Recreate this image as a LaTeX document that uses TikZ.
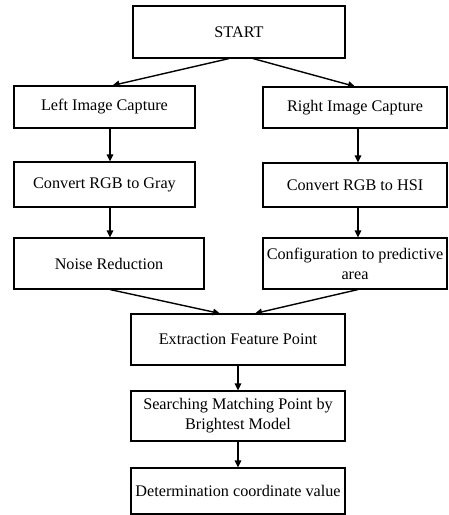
\documentclass[tikz,border=0pt]{standalone}
\usepackage{fontspec}
\setmainfont{Liberation Serif}
\usetikzlibrary{arrows.meta}
\begin{document}
\begin{tikzpicture}[x=1pt,y=-1pt,
  box/.style={draw=black,line width=1.1pt,rectangle,inner sep=0pt,align=center,
    font=\fontsize{16.2}{20}\selectfont},
  arr/.style={line width=1.4pt,-{Triangle[length=7pt,width=6.5pt]}}]
\useasboundingbox (0,0) rectangle (449,515);
\node[box,minimum width=212pt,minimum height=52pt] (start) at (239,32) {START};
\node[box,minimum width=181pt,minimum height=42pt] (left) at (104.5,107) {Left Image Capture};
\node[box,minimum width=184pt,minimum height=41pt] (right) at (355,107.5) {Right Image Capture};
\node[box,minimum width=181pt,minimum height=45pt] (gray) at (104.5,184.5) {Convert RGB to Gray};
\node[box,minimum width=184pt,minimum height=44pt] (hsi) at (355,185) {Convert RGB to HSI};
\node[box,minimum width=190pt,minimum height=51pt] (noise) at (109,263.5) {Noise Reduction};
\node[box,minimum width=184pt,minimum height=51pt] (config) at (355,263.5) {Configuration to predictive\\area};
\node[box,minimum width=214pt,minimum height=51pt] (extract) at (238,339.5) {Extraction Feature Point};
\node[box,minimum width=214pt,minimum height=50pt] (search) at (238,416) {Searching Matching Point by\\Brightest Model};
\node[box,minimum width=214pt,minimum height=46pt] (determ) at (238,491) {Determination coordinate value};
\draw[arr] ([xshift=-10pt]start.south) -- ([xshift=8pt]left.north);
\draw[arr] ([xshift=14pt]start.south) -- (right.north);
\draw[arr] ([xshift=5.5pt]left.south) -- ([xshift=5.5pt]gray.north);
\draw[arr] ([xshift=3pt]right.south) -- ([xshift=3pt]hsi.north);
\draw[arr] ([xshift=5.5pt]gray.south) -- ([xshift=1pt]noise.north);
\draw[arr] ([xshift=3pt]hsi.south) -- ([xshift=3pt]config.north);
\draw[arr] ([xshift=1pt]noise.south) -- ([xshift=-18pt]extract.north);
\draw[arr] ([xshift=3pt]config.south) -- ([xshift=17pt]extract.north);
\draw[arr] (extract.south) -- (search.north);
\draw[arr] (search.south) -- (determ.north);
\end{tikzpicture}
\end{document}
